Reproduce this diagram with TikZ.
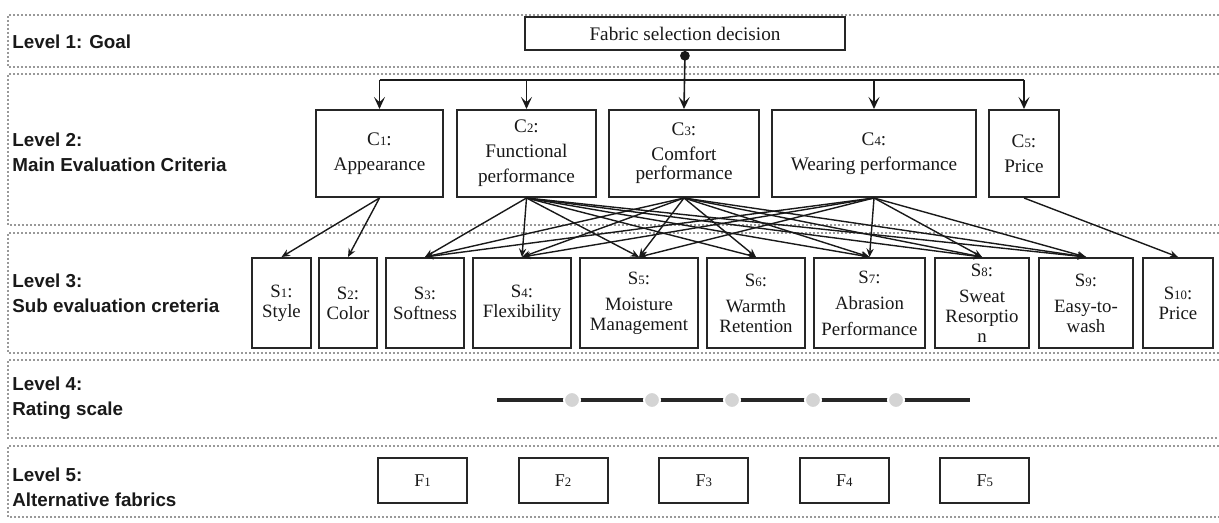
\documentclass[tikz,border=0pt]{standalone}
\usepackage{fontspec}
\setmainfont{Liberation Serif}
\setsansfont{Liberation Sans}
\usetikzlibrary{arrows.meta,positioning,calc}
\providecommand{\idx}[1]{{\fontsize{6.4}{7}\selectfont #1}}
\tikzset{
  hbox/.style   ={draw=black!85, line width=1pt, align=center, fill=white,
                  inner sep=1pt, text=black!90},
  hgoal/.style  ={hbox, minimum width=160pt, minimum height=16.5pt,
                  font=\fontsize{9.6}{11}\selectfont},
  hcrit/.style  ={hbox, minimum height=43.5pt, font=\fontsize{9.6}{12.5}\selectfont},
  hsub/.style   ={hbox, minimum height=45pt, font=\fontsize{9.4}{10}\selectfont},
  halt/.style   ={hbox, minimum width=44.5pt, minimum height=22.5pt,
                  font=\fontsize{9}{10}\selectfont},
  hlevel/.style ={anchor=west, align=left, text=black!90, inner sep=0pt,
                  font=\sffamily\bfseries\fontsize{9.4}{12.5}\selectfont},
  hband/.style  ={draw=black!40, line width=.8pt, dash pattern=on .8pt off 1.2pt},
  harrow/.style ={-{Stealth[length=6pt,width=5.5pt,inset=2.6pt]}, line width=.8pt, draw=black!90},
  hroot/.style  ={harrow, {Circle[length=4.8pt]}-{Stealth[length=6pt,width=5.5pt,inset=2.6pt]}},
  hline/.style  ={line width=.8pt, draw=black!90},
  hlink/.style  ={-{Stealth[length=4.2pt,width=3.6pt]}, line width=.7pt, draw=black!90},
  hscale/.style ={line width=1.9pt, draw=black!85},
  hdot/.style   ={circle, fill=black!17, draw=white, line width=1pt, inner sep=0pt,
                  minimum size=8pt},
}

\begin{document}
\begin{tikzpicture}[x=0.5pt, y=-0.5pt]
  \useasboundingbox (0,0) rectangle (1219,523);

  % ---- level bands ----
  \foreach \t/\b in {15/67, 74/225, 233/353, 360/438, 446/517}
    \draw[hband] (1219,\t) -- (8,\t) -- (8,\b) -- (1219,\b);

  \node[hlevel] (lv1) at (12,42)  {Level 1: Goal};
  \node[hlevel] (lv2) at (12,152) {Level 2:\\Main Evaluation Criteria};
  \node[hlevel] (lv3) at (12,293) {Level 3:\\Sub evaluation creteria};
  \node[hlevel] (lv4) at (12,398) {Level 4:\\Rating scale};
  \node[hlevel] (lv5) at (12,487) {Level 5:\\Alternative fabrics};

  % ---- (1) goal ----
  \node[hgoal] (goal) at (685,33.5) {Fabric selection decision};

  % ---- (2) main criteria ----
  \node[hcrit, minimum width=63.5pt] (c1) at (379.5,153.5) {C\idx{1}:\\Appearance};
  \node[hcrit, minimum width=69.5pt] (c2) at (526.5,153.5) {C\idx{2}:\\Functional\\performance};
  \node[hcrit, minimum width=75pt]   (c3) at (684,153.5)   {C\idx{3}:\\Comfort\\[-3pt]performance};
  \node[hcrit, minimum width=102pt]  (c4) at (874,153.5)   {C\idx{4}:\\Wearing performance};
  \node[hcrit, minimum width=35pt]   (c5) at (1024,153.5)  {C\idx{5}:\\Price};

  % ---- (3) sub criteria ----
  \node[hsub, minimum width=29.5pt] (s1)  at (281.5,303) {S\idx{1}:\\Style};
  \node[hsub, minimum width=29pt]   (s2)  at (348,303)   {S\idx{2}:\\Color};
  \node[hsub, minimum width=39pt]   (s3)  at (425,303)   {S\idx{3}:\\Softness};
  \node[hsub, minimum width=49pt]   (s4)  at (522,303)   {S\idx{4}:\\Flexibility};
  \node[hsub, minimum width=59pt]   (s5)  at (639,303)   {S\idx{5}:\\[3pt]Moisture\\Management};
  \node[hsub, minimum width=49pt]   (s6)  at (756,303)   {S\idx{6}:\\[3pt]Warmth\\Retention};
  \node[hsub, minimum width=55.5pt] (s7)  at (869.5,303) {S\idx{7}:\\[3pt]Abrasion\\[3pt]Performance};
  \node[hsub, minimum width=47pt]   (s8)  at (982,303)   {S\idx{8}:\\[3pt]Sweat\\Resorptio\\n};
  \node[hsub, minimum width=47pt]   (s9)  at (1086,303)  {S\idx{9}:\\[3pt]Easy-to-\\wash};
  \node[hsub, minimum width=35pt]   (s10) at (1178,303)  {S\idx{10}:\\Price};

  % ---- (4) rating scale ----
  \coordinate (sc0) at (497,400);
  \coordinate (sc1) at (970,400);
  \draw[hscale] (sc0) -- (sc1);
  \foreach \x [count=\i] in {572,652,732,813,896}
    \node[hdot] (d\i) at (\x,400) {};

  % ---- (5) alternatives ----
  \foreach \i in {1,...,5}
    \node[halt] (f\i) at ({422.5+140.6*(\i-1)},480.5) {F\idx{\i}};

  % ---- arrows ----
  \draw[hroot] (goal.south) -- (c3.north);
  \coordinate (bus) at (0,80);
  \draw[hline] (c1.north |- bus) -- (c5.north |- bus);
  \foreach \c in {c1,c2,c4,c5}
    \draw[harrow] (\c.north |- bus) -- (\c.north);

  \foreach \a/\b in {c1/s1, c1/s2,
                     c2/s3, c2/s4, c2/s5, c2/s6, c2/s7, c2/s8, c2/s9,
                     c3/s3, c3/s4, c3/s5, c3/s6, c3/s7, c3/s8, c3/s9,
                     c4/s3, c4/s4, c4/s5, c4/s7, c4/s8, c4/s9,
                     c5/s10}
    \draw[hlink] (\a.south) -- (\b.north);

\end{tikzpicture}
\end{document}
